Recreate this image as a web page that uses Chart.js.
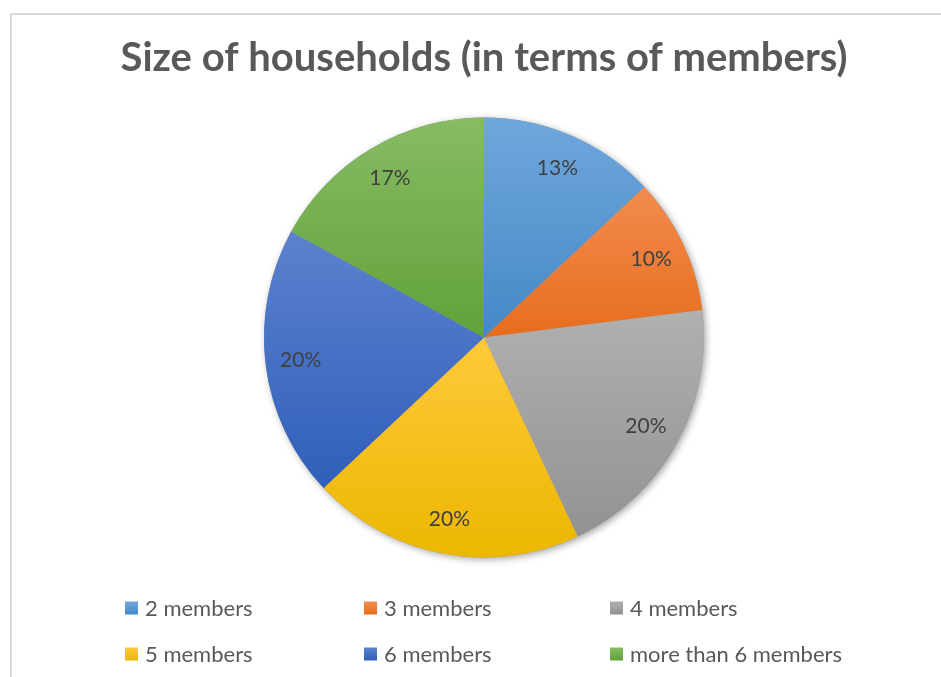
<!DOCTYPE html>
<html>
<head>
<meta charset="utf-8">
<script src="https://cdn.jsdelivr.net/npm/chart.js@4.4.1/dist/chart.umd.min.js"></script>
<style>
  html, body { margin: 0; padding: 0; background: #fff; overflow: hidden; }
  #frame {
    position: absolute; left: 10px; top: 13px;
    width: 944px; height: 680px;
    border-left: 2px solid #d9d9d9; border-top: 2px solid #d9d9d9;
  }
  #chart { display: block; }
</style>
</head>
<body>
<div id="frame"><canvas id="chart" width="944" height="664"></canvas></div>
<script>
var categories = ['2 members', '3 members', '4 members', '5 members', '6 members', 'more than 6 members'];
var shares = [13, 10, 20, 20, 20, 17];

// light (top) and dark (bottom) end of each slice's gradient
var topColors = ['#70a7dc', '#f28c4f', '#b0b0b0', '#ffc93b', '#5c82cf', '#87bb64'];
var bottomColors = ['#4488c7', '#e76d1d', '#929292', '#ecb700', '#2f5fb9', '#61a239'];

var textColor = '#595959';
var fontFamily = 'Lato, "Open Sans", sans-serif';

// vertical extent of slice i, so each gradient spans only its own slice
function sliceGradient(c){
  var chart = c.chart;
  var area = chart.chartArea;
  var i = c.dataIndex;
  if (!area || i === undefined) return topColors[i || 0];
  var cx = (area.left + area.right) / 2;
  var cy = (area.top + area.bottom) / 2;
  var r = Math.min(area.right - area.left, area.bottom - area.top) / 2;
  var total = 0, before = 0;
  for (var k = 0; k < shares.length; k++){
    total += shares[k];
    if (k < i) before += shares[k];
  }
  var a0 = -Math.PI / 2 + before / total * 2 * Math.PI;
  var a1 = a0 + shares[i] / total * 2 * Math.PI;
  var minY = cy, maxY = cy;
  for (var s = 0; s <= 60; s++){
    var y = cy + Math.sin(a0 + (a1 - a0) * s / 60) * r;
    if (y < minY) minY = y;
    if (y > maxY) maxY = y;
  }
  var g = chart.ctx.createLinearGradient(0, minY, 0, maxY);
  g.addColorStop(0, topColors[i]);
  g.addColorStop(1, bottomColors[i]);
  return g;
}

// soft shadow under the whole pie
var pieShadow = {
  id: 'pieShadow',
  beforeDatasetsDraw: function(chart){
    var arc = chart.getDatasetMeta(0).data[0];
    if (!arc) return;
    var ctx = chart.ctx;
    ctx.save();
    ctx.shadowColor = 'rgba(0,0,0,0.35)';
    ctx.shadowBlur = 7;
    ctx.shadowOffsetX = 2;
    ctx.shadowOffsetY = 2;
    ctx.fillStyle = '#999';
    ctx.beginPath();
    ctx.arc(arc.x, arc.y, arc.outerRadius, 0, Math.PI * 2);
    ctx.fill();
    ctx.restore();
  }
};

// percentage text inside each slice
var sliceLabels = {
  id: 'sliceLabels',
  afterDatasetsDraw: function(chart){
    var ctx = chart.ctx;
    var arcs = chart.getDatasetMeta(0).data;
    ctx.save();
    ctx.font = '21px ' + fontFamily;
    ctx.fillStyle = '#404040';
    ctx.textAlign = 'center';
    ctx.textBaseline = 'middle';
    arcs.forEach(function(arc, i){
      var p = arc.getProps(['x', 'y', 'startAngle', 'endAngle', 'outerRadius']);
      var mid = (p.startAngle + p.endAngle) / 2;
      var r = p.outerRadius * 0.84;
      ctx.fillText(shares[i] + '%', p.x + Math.cos(mid) * r, p.y + Math.sin(mid) * r);
    });
    ctx.restore();
  }
};

// three-column legend below the pie
var gridLegend = {
  id: 'gridLegend',
  afterDraw: function(chart){
    var ctx = chart.ctx;
    var area = chart.chartArea;
    var cols = [113, 352, 598];
    var rows = [area.bottom + 50, area.bottom + 96];
    ctx.save();
    ctx.font = '22px ' + fontFamily;
    ctx.textBaseline = 'middle';
    categories.forEach(function(name, i){
      var x = cols[i % 3];
      var y = rows[Math.floor(i / 3)];
      var g = ctx.createLinearGradient(0, y - 6, 0, y + 7);
      g.addColorStop(0, topColors[i]);
      g.addColorStop(1, bottomColors[i]);
      ctx.fillStyle = g;
      ctx.fillRect(x, y - 6, 13, 13);
      ctx.fillStyle = textColor;
      ctx.fillText(name, x + 20, y + 1);
    });
    ctx.restore();
  }
};

var ctx = document.getElementById('chart');
var myChart = new Chart(ctx, {
  type: 'pie',
  data: {
    labels: categories,
    datasets: [{
      data: shares,
      backgroundColor: sliceGradient,
      borderWidth: 0
    }]
  },
  options: {
    responsive: false,
    animation: false,
    layout: { padding: { top: 0, bottom: 121.5, left: 0, right: 0 } },
    plugins: {
      legend: { display: false },
      tooltip: { enabled: false },
      title: {
        display: true,
        text: 'Size of households (in terms of members)',
        color: textColor,
        font: { family: fontFamily, size: 40, weight: 'bold', lineHeight: 1.2 },
        padding: { top: 19, bottom: 35.5 }
      }
    }
  },
  plugins: [pieShadow, sliceLabels, gridLegend]
});
</script>
</body>
</html>
